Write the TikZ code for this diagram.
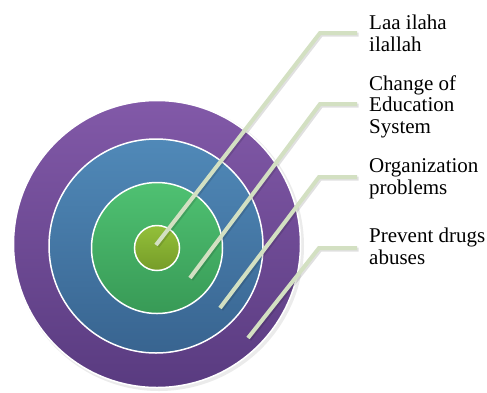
\documentclass[tikz,border=0pt]{standalone}
\usepackage{fontspec}
\setmainfont{Liberation Serif}
\usepackage{tikz}
\usetikzlibrary{positioning}

\definecolor{purpletop}{HTML}{8259A8}
\definecolor{purplebot}{HTML}{593B80}
\definecolor{bluetop}{HTML}{5089B8}
\definecolor{bluebot}{HTML}{386490}
\definecolor{greentop}{HTML}{4FC172}
\definecolor{greenbot}{HTML}{389A56}
\definecolor{limetop}{HTML}{93C03A}
\definecolor{limebot}{HTML}{769C28}
\definecolor{leadergreen}{HTML}{D3E0C2}

\tikzset{
  ring/.style={circle, draw=white, line width=1.5pt, inner sep=0pt},
  leader/.style={line width=4pt, draw=leadergreen, line join=miter},
  leadershade/.style={line width=4pt, draw=black, opacity=0.12},
  tag/.style={anchor=base west, align=left, inner sep=0pt, font=\fontsize{21}{21.3}\selectfont},
}

\begin{document}
\begin{tikzpicture}[x=1pt, y=-1pt]
    \useasboundingbox (0,0) rectangle (487,392); % page
    \fill[black, opacity=0.08] (159,246) circle (145);
    \node[ring, minimum size=287pt, top color=purpletop, bottom color=purplebot] (drugs) at (157,244) {};
    \node[ring, minimum size=214pt, top color=bluetop, bottom color=bluebot] (orga) at (156,246) {};
    \node[ring, minimum size=131pt, top color=greentop, bottom color=greenbot] (educ) at (157,248) {};
    \node[ring, minimum size=45pt, top color=limetop, bottom color=limebot] (laa) at (157,248) {};

    % base = last line
    \node[tag] (t1) at (369,51) {Laa ilaha\\ilallah};
    \node[tag] (t2) at (369,133) {Change of\\Education\\System};
    \node[tag] (t3) at (369,194) {Organization\\problems};
    \node[tag] (t4) at (369,264) {Prevent drugs\\abuses};

    \coordinate (s1) at (156,245);
    \coordinate (s2) at (190,278);
    \coordinate (s3) at (220,308);
    \coordinate (s4) at (248,338);
    \coordinate (k1) at (320,33);
    \coordinate (k2) at (320,104);
    \coordinate (k3) at (319,177);
    \coordinate (k4) at (319,248);
    \coordinate (e1) at (357,33);
    \coordinate (e2) at (357,104);
    \coordinate (e3) at (357,177);
    \coordinate (e4) at (357,248);

    \foreach \i in {1,...,4} {
        \draw[leadershade] ([xshift=1.5pt,yshift=-1.5pt]s\i) -- ([xshift=1.5pt,yshift=-1.5pt]k\i) -- ([xshift=1.5pt,yshift=-1.5pt]e\i);
        \draw[leader] (s\i) -- (k\i) -- (e\i);
    }
\end{tikzpicture}
\end{document}
